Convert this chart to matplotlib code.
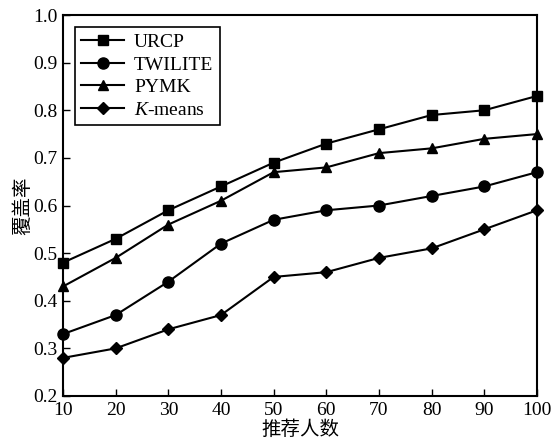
import matplotlib
matplotlib.use("Agg")
import matplotlib.pyplot as plt

x = [10, 20, 30, 40, 50, 60, 70, 80, 90, 100]
urcp = [0.48, 0.53, 0.59, 0.64, 0.69, 0.73, 0.76, 0.79, 0.80, 0.83]
twilite = [0.33, 0.37, 0.44, 0.52, 0.57, 0.59, 0.60, 0.62, 0.64, 0.67]
pymk = [0.43, 0.49, 0.56, 0.61, 0.67, 0.68, 0.71, 0.72, 0.74, 0.75]
kmeans = [0.28, 0.30, 0.34, 0.37, 0.45, 0.46, 0.49, 0.51, 0.55, 0.59]
labels = ["URCP", "TWILITE", "PYMK", "$\\it{K}$-means"]
yticks = [0.2, 0.3, 0.4, 0.5, 0.6, 0.7, 0.8, 0.9, 1.0]

plt.rcParams['font.family'] = ['Liberation Serif', 'Noto Sans CJK SC']
plt.rcParams['mathtext.fontset'] = 'custom'
plt.rcParams['mathtext.it'] = 'Liberation Serif:italic'
plt.rcParams['mathtext.rm'] = 'Liberation Serif'

fig = plt.figure(figsize=(5.54, 4.43), dpi=100)
ax = fig.add_axes([0.1137, 0.1061, 0.8556, 0.86])

series = [urcp, twilite, pymk, kmeans]
markers = ['s', 'o', '^', 'D']
msizes = [7, 8, 7, 6]
for ys, m, ms, lab in zip(series, markers, msizes, labels):
    ax.plot(x, ys, color='black', lw=1.5, marker=m, ms=ms, label=lab, clip_on=False, zorder=3)

ax.set_xlim(10, 100)
ax.set_ylim(0.2, 1.0)
ax.set_xticks(x)
ax.set_yticks(yticks)
ax.set_yticklabels([f"{v:.1f}" for v in yticks])
ax.tick_params(direction='in', labelsize=14, length=5, width=1)
ax.tick_params(axis='x', pad=4)
ax.tick_params(axis='y', pad=4)
for s in ax.spines.values():
    s.set_linewidth(1.5)

ax.set_xlabel("推荐人数", fontsize=14, family=['Noto Sans CJK SC'], labelpad=0)
ax.set_ylabel("覆盖率", fontsize=14, family=['Noto Sans CJK SC'], labelpad=0)

leg = ax.legend(loc='upper left', fontsize=14, fancybox=False, edgecolor='black',
                framealpha=1, handlelength=2.2, borderpad=0.35, labelspacing=0.25,
                handletextpad=0.5, bbox_to_anchor=(0.0, 1.0), borderaxespad=0.6)
leg.get_frame().set_linewidth(1.2)

fig.savefig("out.png", dpi=100)
